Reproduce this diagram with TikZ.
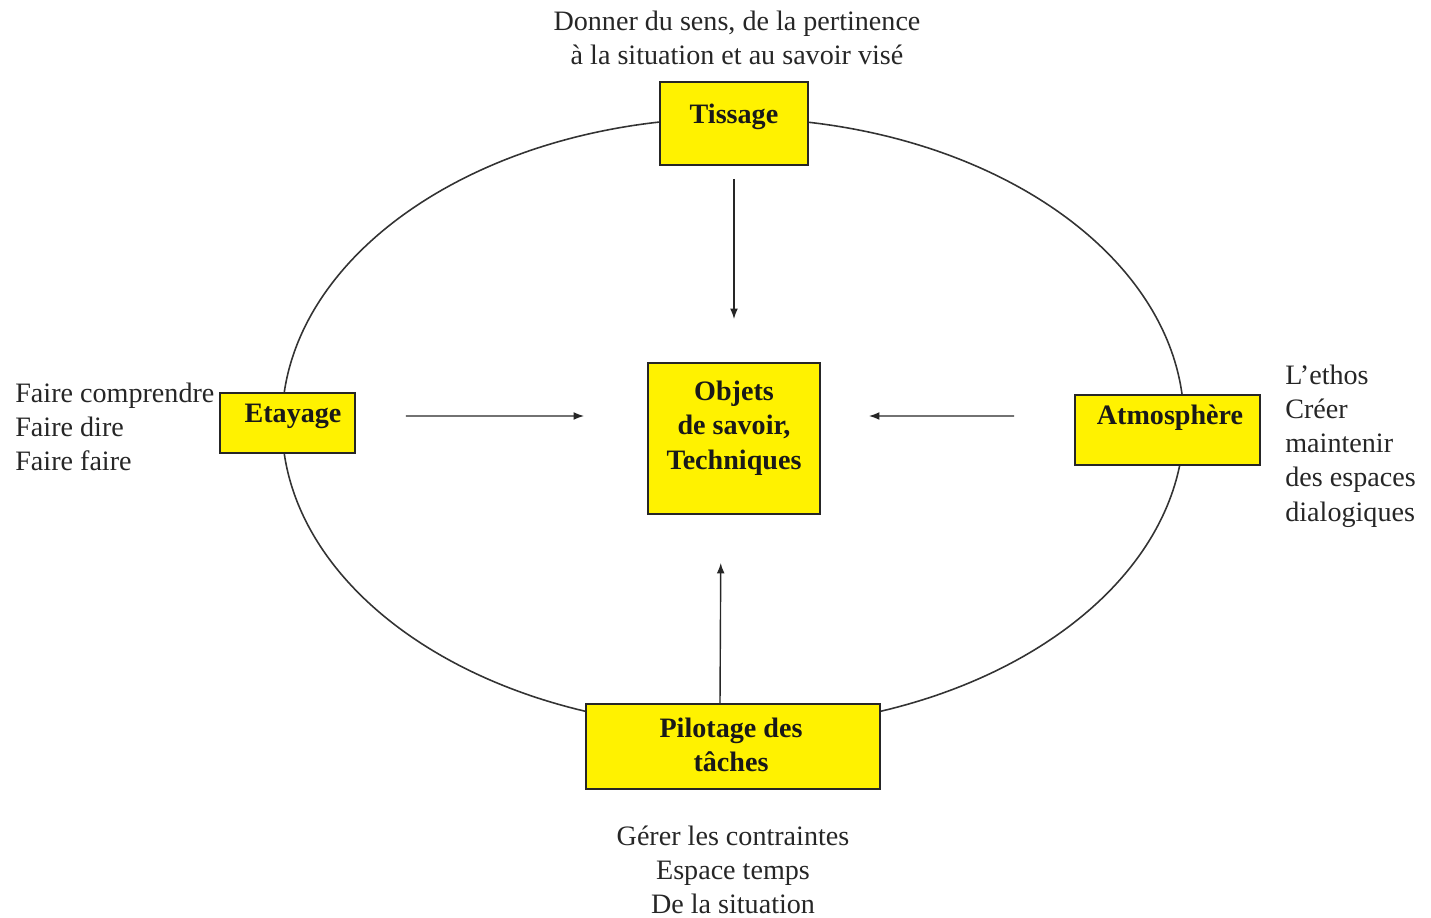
\documentclass[tikz,border=0pt]{standalone}
\usepackage{fontspec}
\setmainfont{Liberation Serif}
\usepackage{tikz}
\usetikzlibrary{arrows.meta}

\begin{document}
\begin{tikzpicture}[x=0.02cm,y=-0.02cm]
\tikzstyle{every node}+=[inner sep=0pt,font=\fontsize{16}{19.5}\selectfont,text=black!85]
\tikzstyle{boite}=[draw=black!85,line width=1.1pt,fill=yellow,rectangle]
\tikzstyle{titre}=[font=\fontsize{16}{19.5}\selectfont\bfseries,align=center,text=black!90]
\tikzstyle{fleche}=[draw=black!85,line width=0.8pt,-{Latex[length=6pt,width=4.5pt]}]
\useasboundingbox (0,0) rectangle (1431,918);
\draw [black!80,line width=0.9pt] (733,423) ellipse [x radius=451,y radius=305];
\node [boite,minimum width=2.96cm,minimum height=1.66cm] (tissage) at (734,123.5) {};
\node [titre] at (734,117) {Tissage};
\node [boite,minimum width=3.44cm,minimum height=3.02cm] (objets) at (734,438.5) {};
\node [titre] at (734,428) {Objets\\de savoir,\\Techniques};
\node [boite,minimum width=2.7cm,minimum height=1.2cm] (etayage) at (287.5,423) {};
\node [titre] at (293,416) {Etayage};
\node [boite,minimum width=3.7cm,minimum height=1.4cm] (atmo) at (1167.5,430) {};
\node [titre] at (1170,418) {Atmosph\`ere};
\node [boite,minimum width=5.88cm,minimum height=1.7cm] (pilotage) at (733,746.5) {};
\node [titre] at (731,745) {Pilotage des\\t\^aches};
\node [align=center] (sens) at (737,38) {Donner du sens, de la pertinence\\\`a la situation et au savoir vis\'e};
\node [align=left,anchor=west] (faire) at (15,427) {Faire comprendre\\Faire dire\\Faire faire};
\node [align=left,anchor=west] (ethos) at (1285,446) {L'ethos\\Cr\'eer\\maintenir\\des espaces\\dialogiques};
\node [align=center] (gerer) at (733,870) {G\'erer les contraintes\\Espace temps\\De la situation};
\draw [fleche,shorten <=0.26cm,shorten >=0.86cm] (tissage) -- (objets);
\draw [fleche,shorten <=1cm,shorten >=1.26cm] ([yshift=0.14cm]etayage.east) -- ([yshift=0.45cm]objets.west);
\draw [fleche,shorten <=1.2cm,shorten >=0.96cm] ([yshift=0.28cm]atmo.west) -- ([yshift=0.45cm]objets.east);
\draw [fleche,shorten >=0.96cm] ([xshift=-0.26cm]pilotage.north) -- ([xshift=-0.26cm]objets.south);
\end{tikzpicture}
\end{document}
